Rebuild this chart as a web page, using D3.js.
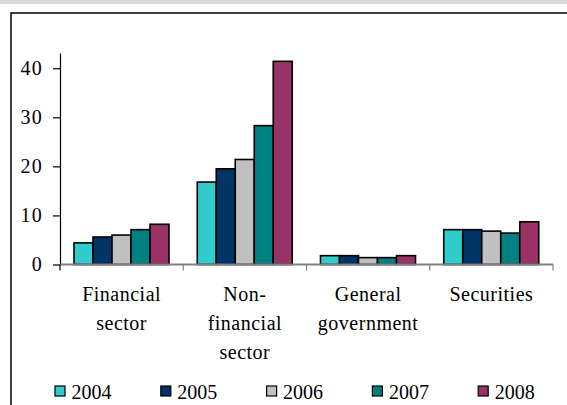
<!DOCTYPE html>
<html>
<head>
<meta charset="utf-8">
<script src="https://cdn.jsdelivr.net/npm/d3@7"></script>
<style>
  body { margin: 0; background: #fff; }
  svg { display: block; font-family: "Liberation Serif", "Times New Roman", serif; }
</style>
</head>
<body>
<div id="container"></div>
<script>
var categories = [['Financial', 'sector'], ['Non-', 'financial', 'sector'], ['General', 'government'], ['Securities']];
var years = ['2004', '2005', '2006', '2007', '2008'];
var colors = ['#33CCCC', '#003366', '#C0C0C0', '#008080', '#993366'];
// one array per year, in category order
var v2004 = [4.4, 16.8, 1.8, 7.1];
var v2005 = [5.6, 19.5, 1.8, 7.1];
var v2006 = [6.0, 21.4, 1.4, 6.8];
var v2007 = [7.1, 28.3, 1.4, 6.4];
var v2008 = [8.2, 41.4, 1.8, 8.7];
var yTicks = [0, 10, 20, 30, 40];

var series = [v2004, v2005, v2006, v2007, v2008];
var width = 567, height = 405;

var svg = d3.select('#container').append('svg')
  .attr('width', width).attr('height', height);

// grey strip and frame round the chart
svg.append('rect').attr('x', 0).attr('y', 0).attr('width', width).attr('height', 4).attr('fill', '#d9d9d9');
svg.append('rect').attr('x', 11).attr('y', 13).attr('width', 600).attr('height', 450)
  .attr('fill', 'none').attr('stroke', '#000').attr('stroke-width', 1.5);

var plotLeft = 60, plotRight = 553, plotTop = 53, plotBottom = 264.5;

var x = d3.scaleBand().domain(d3.range(categories.length)).range([plotLeft, plotRight]);
var xi = d3.scaleBand().domain(years).range([14, 109]);
var y = d3.scaleLinear().domain([0, 43.1]).range([plotBottom, plotTop]);

// bars
var groups = svg.selectAll('g.cat')
  .data(categories.map(function(c, i) { return i; }))
  .enter().append('g')
  .attr('class', 'cat')
  .attr('transform', function(i) { return 'translate(' + x(i) + ',0)'; });

groups.selectAll('rect')
  .data(function(i) { return years.map(function(yr, j) { return { year: yr, j: j, value: series[j][i] }; }); })
  .enter().append('rect')
  .attr('x', function(d) { return xi(d.year); })
  .attr('width', xi.bandwidth())
  .attr('y', function(d) { return y(d.value); })
  .attr('height', function(d) { return plotBottom - y(d.value); })
  .attr('fill', function(d) { return colors[d.j]; })
  .attr('stroke', '#000')
  .attr('stroke-width', 1.6);

// y axis
var yAxis = svg.append('g')
  .attr('transform', 'translate(' + plotLeft + ',0)')
  .call(d3.axisLeft(y).tickValues(yTicks).tickSize(7).tickPadding(10).tickSizeOuter(0));
yAxis.select('.domain').attr('stroke', '#000').attr('stroke-width', 1.2);
yAxis.selectAll('.tick line').attr('stroke', '#000').attr('stroke-width', 1.2);
yAxis.selectAll('.tick text')
  .attr('font-size', 20).attr('letter-spacing', 1.2)
  .attr('font-family', 'Liberation Serif').attr('fill', '#000');

// x axis
var xAxis = svg.append('g').attr('transform', 'translate(0,' + plotBottom + ')');
xAxis.append('line').attr('x1', plotLeft).attr('x2', plotRight).attr('stroke', '#808080').attr('stroke-width', 2);
xAxis.selectAll('line.tk')
  .data(d3.range(categories.length + 1))
  .enter().append('line')
  .attr('class', 'tk')
  .attr('x1', function(i) { return i < categories.length ? x(i) : plotRight; })
  .attr('x2', function(i) { return i < categories.length ? x(i) : plotRight; })
  .attr('y1', 0).attr('y2', 6)
  .attr('stroke', function(i) { return i === 0 ? '#000' : '#808080'; })
  .attr('stroke-width', 1.2);

// category labels
groups.append('text')
  .attr('text-anchor', 'middle')
  .attr('font-size', 20)
  .attr('letter-spacing', 0.5)
  .attr('fill', '#000')
  .selectAll('tspan')
  .data(function(i) { return categories[i]; })
  .enter().append('tspan')
  .attr('x', x.bandwidth() / 2)
  .attr('y', function(d, k) { return 300.5 + k * 29; })
  .text(function(d) { return d; });

// legend
var legend = svg.selectAll('g.legend')
  .data(years)
  .enter().append('g')
  .attr('class', 'legend')
  .attr('transform', function(d, j) { return 'translate(' + (55 + j * 105.8) + ',386)'; });
legend.append('rect')
  .attr('width', 10).attr('height', 10)
  .attr('fill', function(d, j) { return colors[j]; })
  .attr('stroke', '#000').attr('stroke-width', 1.2);
legend.append('text')
  .attr('x', 16.5).attr('y', 13)
  .attr('font-size', 20)
  .attr('fill', '#000')
  .text(function(d) { return d; });
</script>
</body>
</html>
